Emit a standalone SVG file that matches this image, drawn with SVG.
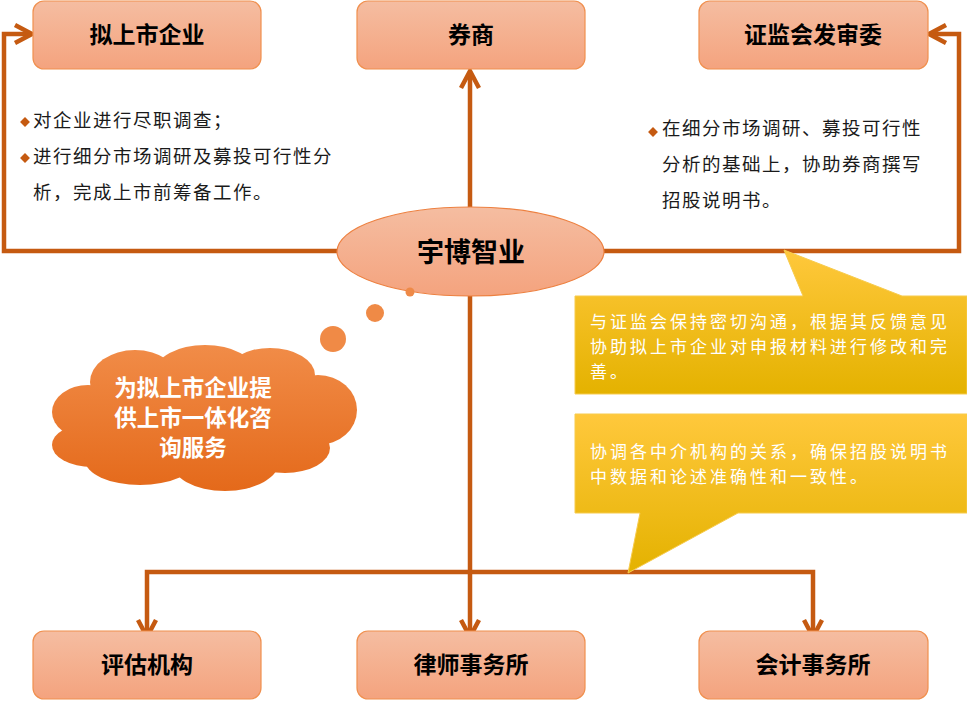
<svg xmlns="http://www.w3.org/2000/svg" width="967" height="701" viewBox="0 0 967 701">
<defs>
<linearGradient id="boxg" x1="0" y1="0" x2="0" y2="1">
<stop offset="0" stop-color="#F5BDA1"/>
<stop offset="1" stop-color="#F4A37E"/>
</linearGradient>
<linearGradient id="yelg" x1="0" y1="0" x2="0" y2="1">
<stop offset="0" stop-color="#FFC83C"/>
<stop offset="1" stop-color="#E4B200"/>
</linearGradient>
<linearGradient id="cloudg" gradientUnits="userSpaceOnUse" x1="0" y1="345" x2="0" y2="492">
<stop offset="0" stop-color="#F18C48"/>
<stop offset="1" stop-color="#E4691A"/>
</linearGradient>
<style>
.box{fill:url(#boxg);stroke:#F0904F;stroke-width:1.2}
.title{font-family:"Noto Sans CJK SC","Noto Sans",sans-serif;font-weight:700;font-size:23px;fill:#000;text-anchor:middle;dominant-baseline:central}
.body{font-family:"Noto Sans CJK SC","Noto Sans",sans-serif;font-size:18.5px;letter-spacing:1.5px;fill:#1a1a1a;dominant-baseline:central}
.wbody{font-family:"Noto Sans CJK SC","Noto Sans",sans-serif;font-size:17px;letter-spacing:3px;fill:#fff;dominant-baseline:central}
.ctext{font-family:"Noto Sans CJK SC","Noto Sans",sans-serif;font-weight:700;font-size:22.5px;fill:#fff;text-anchor:middle;dominant-baseline:central}
.conn{fill:none;stroke:#C55A11;stroke-width:4.5;stroke-linejoin:miter}
.bul{fill:#C55A11}
.cl{fill:url(#cloudg)}
.yel{fill:url(#yelg);stroke:#F7CB4D;stroke-width:1}
</style>
</defs>
<rect width="967" height="701" fill="#fff"/>
<g id="connectors">
<path class="conn" d="M337,251 L4,251 L4,34 L31,34"/>
<polyline class="conn" points="15,25 32,34 15,43"/>
<path class="conn" d="M604,251 L959,251 L959,34 L930,34"/>
<polyline class="conn" points="946,25 929,34 946,43"/>
<path class="conn" d="M470,637 L470,72"/>
<polyline class="conn" points="461,88 470,71 479,88"/>
<path class="conn" d="M147,636 L147,572 L813,572 L813,636"/>
<polyline class="conn" points="138,620 147,637 156,620"/>
<polyline class="conn" points="461,620 470,637 479,620"/>
<polyline class="conn" points="804,620 813,637 822,620"/>
</g>
<g id="node-nishangshi">
<rect class="box" x="33" y="1" width="228" height="68" rx="11"/>
<text class="title" x="147" y="33">拟上市企业</text>
</g>
<g id="node-quanshang">
<rect class="box" x="357" y="1" width="228" height="68" rx="11"/>
<text class="title" x="471" y="33">券商</text>
</g>
<g id="node-zhengjianhui">
<rect class="box" x="699" y="1" width="229" height="68" rx="11"/>
<text class="title" x="813" y="33">证监会发审委</text>
</g>
<g id="node-pinggu">
<rect class="box" x="33" y="631" width="228" height="68" rx="11"/>
<text class="title" x="147" y="663">评估机构</text>
</g>
<g id="node-lvshi">
<rect class="box" x="357" y="631" width="228" height="68" rx="11"/>
<text class="title" x="471" y="663">律师事务所</text>
</g>
<g id="node-kuaiji">
<rect class="box" x="699" y="631" width="229" height="68" rx="11"/>
<text class="title" x="813" y="663">会计事务所</text>
</g>
<g id="text-left">
<rect class="bul" x="21.5" y="118.5" width="7" height="7" transform="rotate(45 25 122)"/>
<rect class="bul" x="21.5" y="154.5" width="7" height="7" transform="rotate(45 25 158)"/>
<text class="body" x="33" y="119">对企业进行尽职调查；</text>
<text class="body" x="33" y="155">进行细分市场调研及募投可行性分</text>
<text class="body" x="33" y="191">析，完成上市前筹备工作。</text>
</g>
<g id="text-right">
<rect class="bul" x="649.5" y="128.5" width="7" height="7" transform="rotate(45 653 132)"/>
<text class="body" x="662" y="127">在细分市场调研、募投可行性</text>
<text class="body" x="662" y="163">分析的基础上，协助券商撰写</text>
<text class="body" x="662" y="199">招股说明书。</text>
</g>
<g id="node-yubo">
<ellipse cx="470.5" cy="251.5" rx="133.5" ry="44.5" fill="url(#boxg)" stroke="#ED8040" stroke-width="1.2"/>
<text class="title" x="471" y="250" style="font-size:27px">宇博智业</text>
</g>
<g id="callout-1">
<path class="yel" d="M575,296 L803,296 L784,250 L902,296 L967,296 L967,394 L575,394 Z"/>
<text class="wbody" x="590" y="320">与证监会保持密切沟通，根据其反馈意见</text>
<text class="wbody" x="590" y="345">协助拟上市企业对申报材料进行修改和完</text>
<text class="wbody" x="590" y="370">善。</text>
</g>
<g id="callout-2">
<path class="yel" d="M575,414 L967,414 L967,513 L738,513 L628,573 L640,513 L575,513 Z"/>
<text class="wbody" x="590" y="450">协调各中介机构的关系，确保招股说明书</text>
<text class="wbody" x="590" y="475">中数据和论述准确性和一致性。</text>
</g>
<g id="cloud">
<circle cx="410" cy="292" r="4.5" fill="#EE8A48"/>
<circle cx="375" cy="313" r="9" fill="#EF8A46"/>
<circle cx="333" cy="339" r="13" fill="#F08A46"/>
<ellipse class="cl" cx="200" cy="418" rx="125" ry="52"/>
<ellipse class="cl" cx="88" cy="412" rx="36" ry="27"/>
<ellipse class="cl" cx="92" cy="445" rx="40" ry="22"/>
<ellipse class="cl" cx="135" cy="382" rx="45" ry="32"/>
<ellipse class="cl" cx="205" cy="372" rx="50" ry="27"/>
<ellipse class="cl" cx="270" cy="375" rx="45" ry="27"/>
<ellipse class="cl" cx="318" cy="410" rx="39" ry="35"/>
<ellipse class="cl" cx="285" cy="448" rx="45" ry="25"/>
<ellipse class="cl" cx="225" cy="460" rx="55" ry="31"/>
<ellipse class="cl" cx="140" cy="460" rx="55" ry="25"/>
<text class="ctext" x="193" y="386">为拟上市企业提</text>
<text class="ctext" x="193" y="416">供上市一体化咨</text>
<text class="ctext" x="193" y="446">询服务</text>
</g>
</svg>
